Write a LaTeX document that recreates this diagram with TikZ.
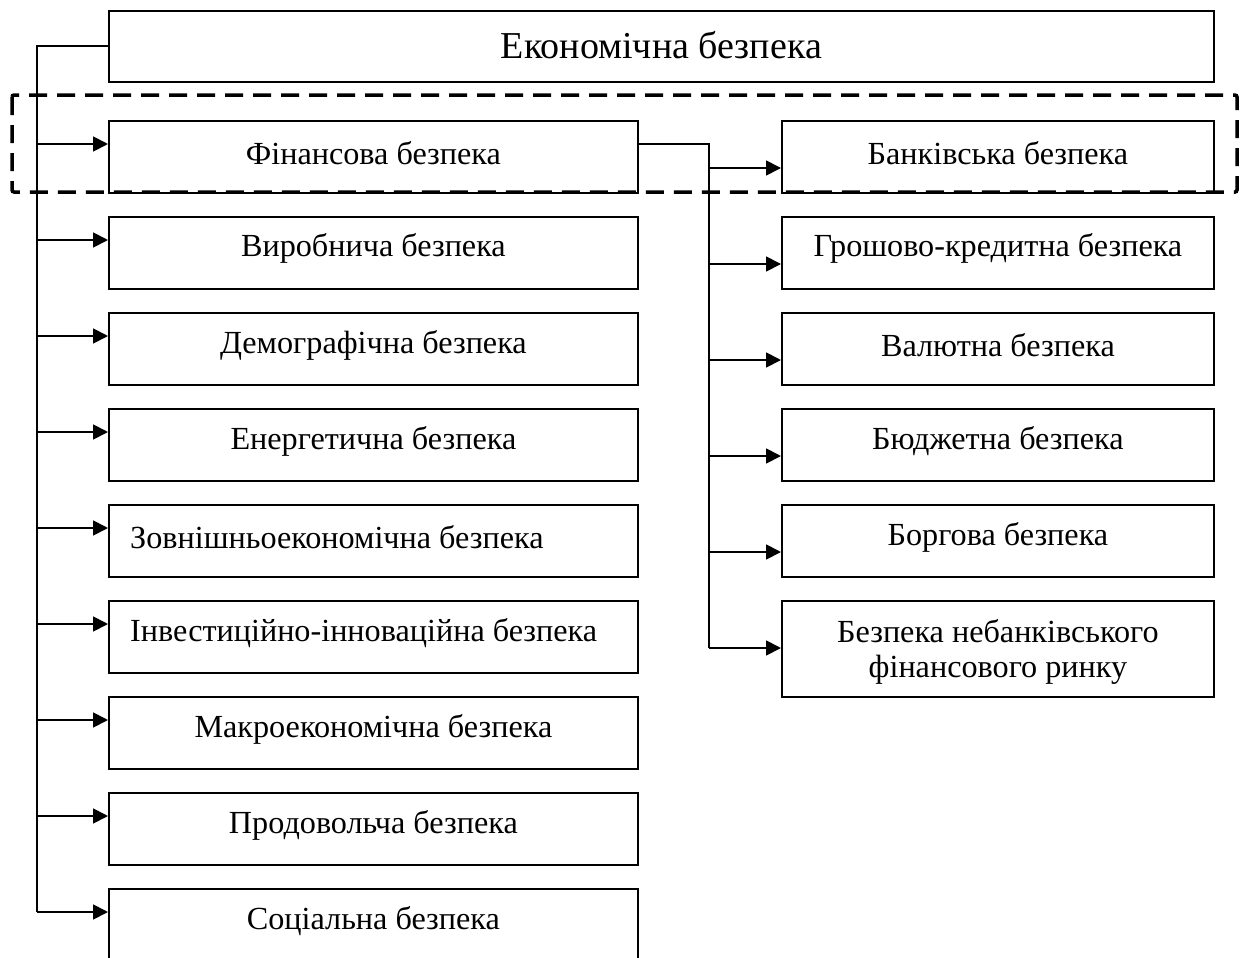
\documentclass[tikz,border=0pt]{standalone}
\usepackage{fontspec}
\setmainfont{Liberation Serif}
\usetikzlibrary{arrows.meta,calc}
\tikzset{
  box/.style={draw, line width=1.8pt, inner sep=0pt, anchor=north west, minimum height=72pt},
  lbox/.style={box, minimum width=529pt},
  rbox/.style={box, minimum width=432pt},
  txt/.style={inner sep=0pt, font=\fontsize{32.2}{35}\selectfont, align=center},
  conn/.style={line width=1.8pt},
  arr/.style={line width=1.8pt, -{Triangle[length=15pt,width=15pt]}},
  grp/.style={line width=3.5pt, dash pattern=on 18pt off 10pt, rounded corners=2pt}
}
\begin{document}
\begin{tikzpicture}[x=1pt,y=-1pt]
\useasboundingbox (0,0) rectangle (1248,958);
% top
\node[box, minimum width=1105pt, minimum height=71pt] (top) at (108,10) {};
\node[txt, font=\fontsize{38}{42}\selectfont] (toptxt) at ([yshift=1pt]top.center) {Економічна безпека};
% left boxes
\node[lbox] (fin) at (108,120) {};
\node[lbox] (vyr) at (108,216) {};
\node[lbox] (dem) at (108,312) {};
\node[lbox] (ener) at (108,408) {};
\node[lbox] (zovn) at (108,504) {};
\node[lbox] (inv) at (108,600) {};
\node[lbox] (makro) at (108,696) {};
\node[lbox] (prod) at (108,792) {};
\node[lbox] (soc) at (108,888) {};
% right boxes
\node[rbox] (bank) at (781,120) {};
\node[rbox] (grosh) at (781,216) {};
\node[rbox] (val) at (781,312) {};
\node[rbox] (budg) at (781,408) {};
\node[rbox] (borg) at (781,504) {};
\node[rbox, minimum height=96pt] (nebank) at (781,600) {};
% texts
\node[txt] (t1) at ([yshift=4pt]fin.center) {Фінансова безпека};
\node[txt] (t2) at ([yshift=4pt]vyr.center) {Виробнича безпека};
\node[txt] (t3) at ([yshift=4pt]dem.center) {Демографічна безпека};
\node[txt] (t4) at ([yshift=4pt]ener.center) {Енергетична безпека};
\node[txt, anchor=west] (t5) at ([xshift=22pt,yshift=4pt]zovn.west) {Зовнішньоекономічна безпека};
\node[txt, anchor=west] (t6) at ([xshift=22pt,yshift=4pt]inv.west) {Інвестиційно-інноваційна безпека};
\node[txt] (t7) at ([yshift=4pt]makro.center) {Макроекономічна безпека};
\node[txt] (t8) at ([yshift=4pt]prod.center) {Продовольча безпека};
\node[txt] (t9) at ([yshift=4pt]soc.center) {Соціальна безпека};
\node[txt] (r1) at ([yshift=4pt]bank.center) {Банківська безпека};
\node[txt] (r2) at ([yshift=4pt]grosh.center) {Грошово-кредитна безпека};
\node[txt] (r3) at ([yshift=4pt]val.center) {Валютна безпека};
\node[txt] (r4) at ([yshift=4pt]budg.center) {Бюджетна безпека};
\node[txt] (r5) at ([yshift=4pt]borg.center) {Боргова безпека};
\node[txt] (r6) at ([yshift=-3pt]nebank.center) {Безпека небанківського\\фінансового ринку};
% dashed group
\draw[grp] (12,95) rectangle (1237,192);
% left trunk
\coordinate (lt) at (37,0);
\coordinate (rt) at (709,0);
\draw[conn] (top.west) -- (lt |- top.west) -- (lt |- {$(soc.north west)+(0,24)$});
\foreach \b in {fin,vyr,dem,ener,zovn,inv,makro,prod,soc}{
  \draw[arr] (lt |- {$(\b.north west)+(0,24)$}) -- ($(\b.north west)+(0,24)$);
}
% right trunk
\draw[conn] ($(fin.north east)+(0,24)$) -- (rt |- {$(fin.north east)+(0,24)$}) -- (rt |- {$(nebank.north west)+(0,48)$});
\foreach \b in {bank,grosh,val,budg,borg,nebank}{
  \draw[arr] (rt |- {$(\b.north west)+(0,48)$}) -- ($(\b.north west)+(0,48)$);
}
\end{tikzpicture}
\end{document}
